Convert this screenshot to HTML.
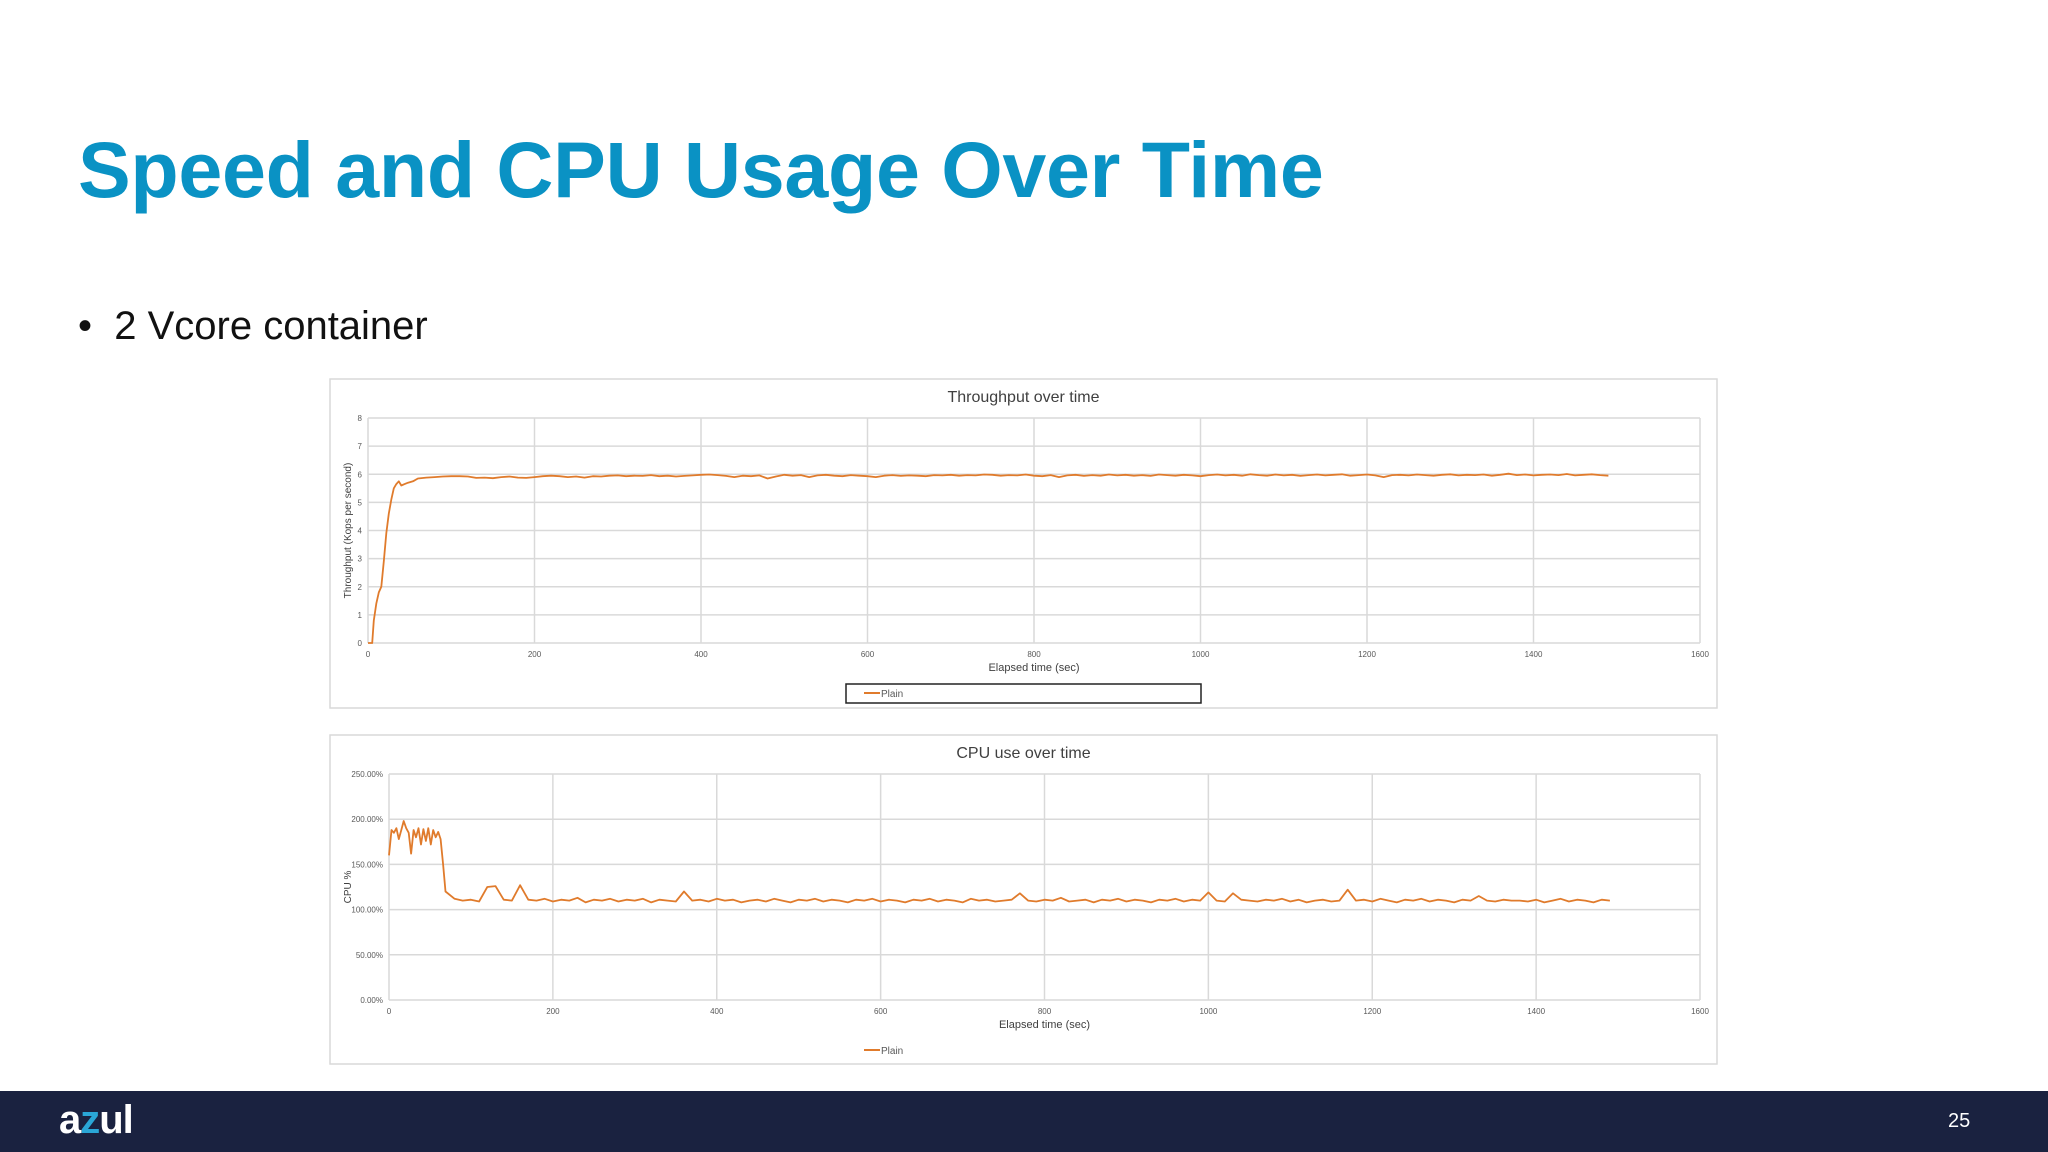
<!DOCTYPE html>
<html><head><meta charset="utf-8"><style>
html,body{margin:0;padding:0;background:#fff;width:2048px;height:1152px;overflow:hidden;font-family:"Liberation Sans",sans-serif;}
#title{position:absolute;left:78px;top:124px;font-size:79px;font-weight:bold;color:#0a92c4;letter-spacing:-0.3px;margin:0;white-space:nowrap}
#bullet{position:absolute;left:78px;top:304px;font-size:40px;color:#111;white-space:nowrap}
#footer{position:absolute;left:0;top:1091px;width:2048px;height:61px;background:#1a2240}
#logo{position:absolute;left:59px;top:1098px;font-size:40px;font-weight:bold;color:#fff;letter-spacing:-1px}
#logo span{color:#2aa6d6}
#page{position:absolute;left:1948px;top:1110px;font-size:20px;color:#fff}
svg{position:absolute;left:0;top:0}
</style></head><body>
<h1 id="title">Speed and CPU Usage Over Time</h1>
<div id="bullet">•&nbsp;&nbsp;2 Vcore container</div>
<svg id="chart" width="2048" height="1152"></svg>
<div id="footer"></div>
<div id="logo">a<span>z</span>ul</div>
<div id="page">25</div>
<script>
const xTicks=[0,200,400,600,800,1000,1200,1400,1600];
const tpTicks=[0,1,2,3,4,5,6,7,8];
const cpuTicks=[0,50,100,150,200,250];
const cpuTickLabels=["0.00%","50.00%","100.00%","150.00%","200.00%","250.00%"];
const tpHeadTimes=[0,5,7,10,13,16,19,22,25,28,31,34,37,40,44,48,54];
const tpHeadValues=[0,0,0.8,1.4,1.8,2.0,2.9,3.9,4.6,5.1,5.5,5.65,5.75,5.6,5.65,5.7,5.75];
const tpTailValues=[5.85,5.88,5.9,5.92,5.93,5.93,5.92,5.87,5.88,5.86,5.9,5.92,
5.88,5.87,5.9,5.93,5.95,5.93,5.9,5.92,5.88,5.93,5.92,5.95,
5.96,5.93,5.95,5.94,5.97,5.93,5.95,5.92,5.94,5.96,5.98,5.99,
5.97,5.94,5.9,5.95,5.93,5.96,5.85,5.92,5.98,5.95,5.97,5.9,
5.96,5.98,5.95,5.93,5.97,5.95,5.93,5.9,5.95,5.97,5.94,5.96,
5.95,5.93,5.97,5.96,5.98,5.95,5.97,5.96,5.99,5.98,5.95,5.97,
5.96,5.99,5.95,5.93,5.97,5.9,5.96,5.98,5.94,5.97,5.95,5.99,
5.96,5.98,5.95,5.97,5.94,5.99,5.97,5.95,5.98,5.96,5.93,5.97,
5.99,5.96,5.98,5.95,6.0,5.97,5.95,5.99,5.96,5.98,5.94,5.97,
5.99,5.96,5.98,6.0,5.95,5.97,5.99,5.96,5.9,5.97,5.98,5.96,
5.99,5.97,5.95,5.98,6.0,5.96,5.98,5.97,5.99,5.95,5.98,6.02,
5.97,5.99,5.96,5.98,5.99,5.97,6.01,5.96,5.98,6.0,5.97,5.95];
const cpuHeadValues=[160,188,185,190,178,188,198,190,185,162,188,180,190,172,189,176,190,172,188,180,186,178,150,120];
const cpuTailValues=[112,110,111,109,125,126,111,110,127,111,
110,112,109,111,110,113,108,111,110,112,
109,111,110,112,108,111,110,109,120,110,
111,109,112,110,111,108,110,111,109,112,
110,108,111,110,112,109,111,110,108,111,
110,112,109,111,110,108,111,110,112,109,
111,110,108,112,110,111,109,110,111,118,
110,109,111,110,113,109,110,111,108,111,
110,112,109,111,110,108,111,110,112,109,
111,110,119,110,109,118,111,110,109,111,
110,112,109,111,108,110,111,109,110,122,
110,111,109,112,110,108,111,110,112,109,
111,110,108,111,110,115,110,109,111,110,
110,109,111,108,110,112,109,111,110,108,111,110];

const svg=document.getElementById('chart');
const NS='http://www.w3.org/2000/svg';
function mk(tag,attrs,text){const e=document.createElementNS(NS,tag);for(const k in attrs)e.setAttribute(k,attrs[k]);if(text!==undefined)e.textContent=text;svg.appendChild(e);return e;}

function drawChart(cfg){
  const {fx,fy,fw,fh,px0,px1,py0,py1,ymax,yTicks,yLabels,title,ytitle,times,values,prefix,legendBox}=cfg;
  const X=v=>px0+(v/1600)*(px1-px0);
  const Y=v=>py0-(v/ymax)*(py0-py1);
  let e=mk('rect',{x:fx,y:fy,width:fw,height:fh,fill:'#fff',stroke:'#d9d9d9','stroke-width':1.5});
  
  
  yTicks.forEach((t,i)=>{
    const g=mk('line',{x1:px0,x2:px1,y1:Y(t),y2:Y(t),stroke:'#d9d9d9','stroke-width':1.5});
    
    
    const l=mk('text',{x:px0-6,y:Y(t)+3,'font-size':8,'text-anchor':'end',fill:'#595959'},yLabels[i]);
    
    
  });
  xTicks.forEach(t=>{
    const g=mk('line',{x1:X(t),x2:X(t),y1:py0,y2:py1,stroke:'#d9d9d9','stroke-width':1.5});
    
    
    const l=mk('text',{x:X(t),y:py0+14,'font-size':8,'text-anchor':'middle',fill:'#595959'},String(t));
    
    
  });
  e=mk('text',{x:(fx+fw/2),y:fy+23,'font-size':16,'text-anchor':'middle',fill:'#404040'},title);
  
  
  e=mk('text',{x:(px0+px1)/2,y:py0+28,'font-size':11,'text-anchor':'middle',fill:'#404040'},'Elapsed time (sec)');
  
  
  e=mk('text',{x:0,y:0,'font-size':10,'text-anchor':'middle',fill:'#404040',transform:`translate(351,${(py0+py1)/2}) rotate(-90)`},ytitle);
  
  
  let d='';
  times.forEach((t,i)=>{d+=(i?'L':'M')+X(t).toFixed(1)+','+Y(values[i]).toFixed(1);});
  e=mk('path',{d:d,fill:'none',stroke:'#e07b2c','stroke-width':1.8,'stroke-linejoin':'round'});
  
  
  const ly=legendBox.ly;
  if(legendBox.box){
    e=mk('rect',{x:846,y:684,width:355,height:19,fill:'none',stroke:'#222','stroke-width':1.5});
    
    
  }
  e=mk('line',{x1:864,x2:880,y1:ly,y2:ly,stroke:'#e07b2c','stroke-width':2});
  
  
  e=mk('text',{x:881,y:ly+4,'font-size':10,fill:'#595959'},'Plain');
  
  
}

const tpTimes=tpHeadTimes.concat(tpTailValues.map((v,i)=>60+i*10));
const tpValues=tpHeadValues.concat(tpTailValues);
drawChart({fx:330,fy:379,fw:1387,fh:329,px0:368,px1:1700,py0:643,py1:418,ymax:8,
  yTicks:tpTicks,yLabels:tpTicks.map(String),title:'Throughput over time',ytitle:'Throughput (Kops per second)',
  times:tpTimes,values:tpValues,prefix:'throughput',legendBox:{box:true,ly:693}});

const cpuTimes=cpuHeadValues.map((v,i)=>i*3).concat(cpuTailValues.map((v,i)=>80+i*10));
const cpuValues=cpuHeadValues.concat(cpuTailValues);
drawChart({fx:330,fy:735,fw:1387,fh:329,px0:389,px1:1700,py0:1000,py1:774,ymax:250,
  yTicks:cpuTicks,yLabels:cpuTickLabels,title:'CPU use over time',ytitle:'CPU %',
  times:cpuTimes,values:cpuValues,prefix:'cpu',legendBox:{box:false,ly:1050}});
</script>
</body></html>
